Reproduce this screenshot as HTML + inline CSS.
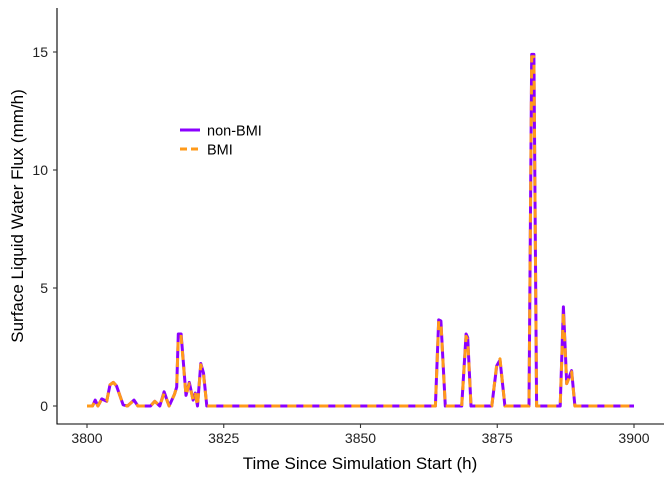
<!DOCTYPE html>
<html><head><meta charset="utf-8"><style>
body{margin:0;background:#fff;}
svg{display:block;font-family:"Liberation Sans",sans-serif;}
</style></head><body>
<svg id="chart" width="672" height="480">
<g id="axes"></g><g id="series"></g>
<g>
 <line x1="180" y1="130" x2="200" y2="130" stroke="#8B00FF" stroke-width="3"/>
 <text x="207" y="135.5" font-size="14.5" fill="#000">non-BMI</text>
 <line x1="180" y1="149" x2="200" y2="149" stroke="#FF9A1A" stroke-width="3" stroke-dasharray="7,4"/>
 <text x="207" y="154.5" font-size="14.5" fill="#000">BMI</text>
</g>
<text x="360" y="469" font-size="17" text-anchor="middle">Time Since Simulation Start (h)</text>
<text transform="translate(23,216) rotate(-90)" font-size="17" text-anchor="middle">Surface Liquid Water Flux (mm/h)</text>
</svg>
<script>
const times=[3800,3801,3801.5,3802,3802.7,3803.6,3804.2,3804.8,3805.4,3806.6,3807.4,3808.6,3809.3,3811.6,3812.4,3813.3,3814.1,3815,3816,3816.4,3816.7,3817.2,3818.1,3818.7,3819.4,3819.8,3820.2,3820.8,3821.3,3821.9,3863.7,3864.3,3864.7,3865.5,3868.5,3869.3,3869.6,3870.2,3874,3874.9,3875.5,3876.4,3880.8,3881.3,3881.7,3882.2,3886.5,3887.1,3887.7,3888.6,3889.2,3900];
const nonBmi=[0,0,0.25,0,0.3,0.2,0.9,1.0,0.85,0.05,0,0.25,0,0,0.2,0,0.6,0,0.5,0.8,3.05,3.05,0.45,1.0,0.25,0.55,0,1.8,1.4,0,0,3.65,3.6,0,0,3.05,2.9,0,0,1.7,1.95,0,0,14.9,14.9,0,0,4.2,0.95,1.5,0,0];
const bmi=[0,0,0.25,0,0.3,0.2,0.9,1.0,0.85,0.05,0,0.25,0,0,0.2,0,0.55,0,0.5,0.8,2.95,2.95,0.45,0.95,0.25,0.5,0,1.75,1.35,0,0,3.6,3.55,0,0,2.95,2.8,0,0,1.75,2.0,0,0,14.8,14.8,0,0,4.0,0.95,1.45,0,0];
const xTicks=[3800,3825,3850,3875,3900];
const yTicks=[0,5,10,15];
const NS="http://www.w3.org/2000/svg";
const X=t=>87+(t-3800)*5.47;
const Y=v=>406-v*23.6;
const axes=document.getElementById('axes');
function mk(tag,attrs,parent){const e=document.createElementNS(NS,tag);for(const k in attrs)e.setAttribute(k,attrs[k]);parent.appendChild(e);return e;}
let l=mk('line',{x1:57,y1:8,x2:57,y2:424.5,stroke:'#000','stroke-width':1.1},axes);


l=mk('line',{x1:56.5,y1:424,x2:664,y2:424,stroke:'#000','stroke-width':1.1},axes);


xTicks.forEach(t=>{
 const tk=mk('line',{x1:X(t),y1:424,x2:X(t),y2:428,stroke:'#333','stroke-width':1.1},axes);
 
 
 const tx=mk('text',{x:X(t),y:443,'font-size':14,'text-anchor':'middle',fill:'#222'},axes);
 tx.textContent=t;
 
 
});
yTicks.forEach(v=>{
 const tk=mk('line',{x1:53,y1:Y(v),x2:57,y2:Y(v),stroke:'#333','stroke-width':1.1},axes);
 
 
 const tx=mk('text',{x:48,y:Y(v)+5,'font-size':14,'text-anchor':'end',fill:'#222'},axes);
 tx.textContent=v;
 
 
});
const ser=document.getElementById('series');
function path(vals){return vals.map((v,i)=>(i?'L':'M')+X(times[i]).toFixed(1)+','+Y(v).toFixed(1)).join('');}
const p1=mk('path',{d:path(nonBmi),fill:'none',stroke:'#8B00FF','stroke-width':3,'stroke-linejoin':'round'},ser);


const p2=mk('path',{d:path(bmi),fill:'none',stroke:'#FF9A1A','stroke-width':3,'stroke-dasharray':'9,7','stroke-linejoin':'round'},ser);


</script>
</body></html>
